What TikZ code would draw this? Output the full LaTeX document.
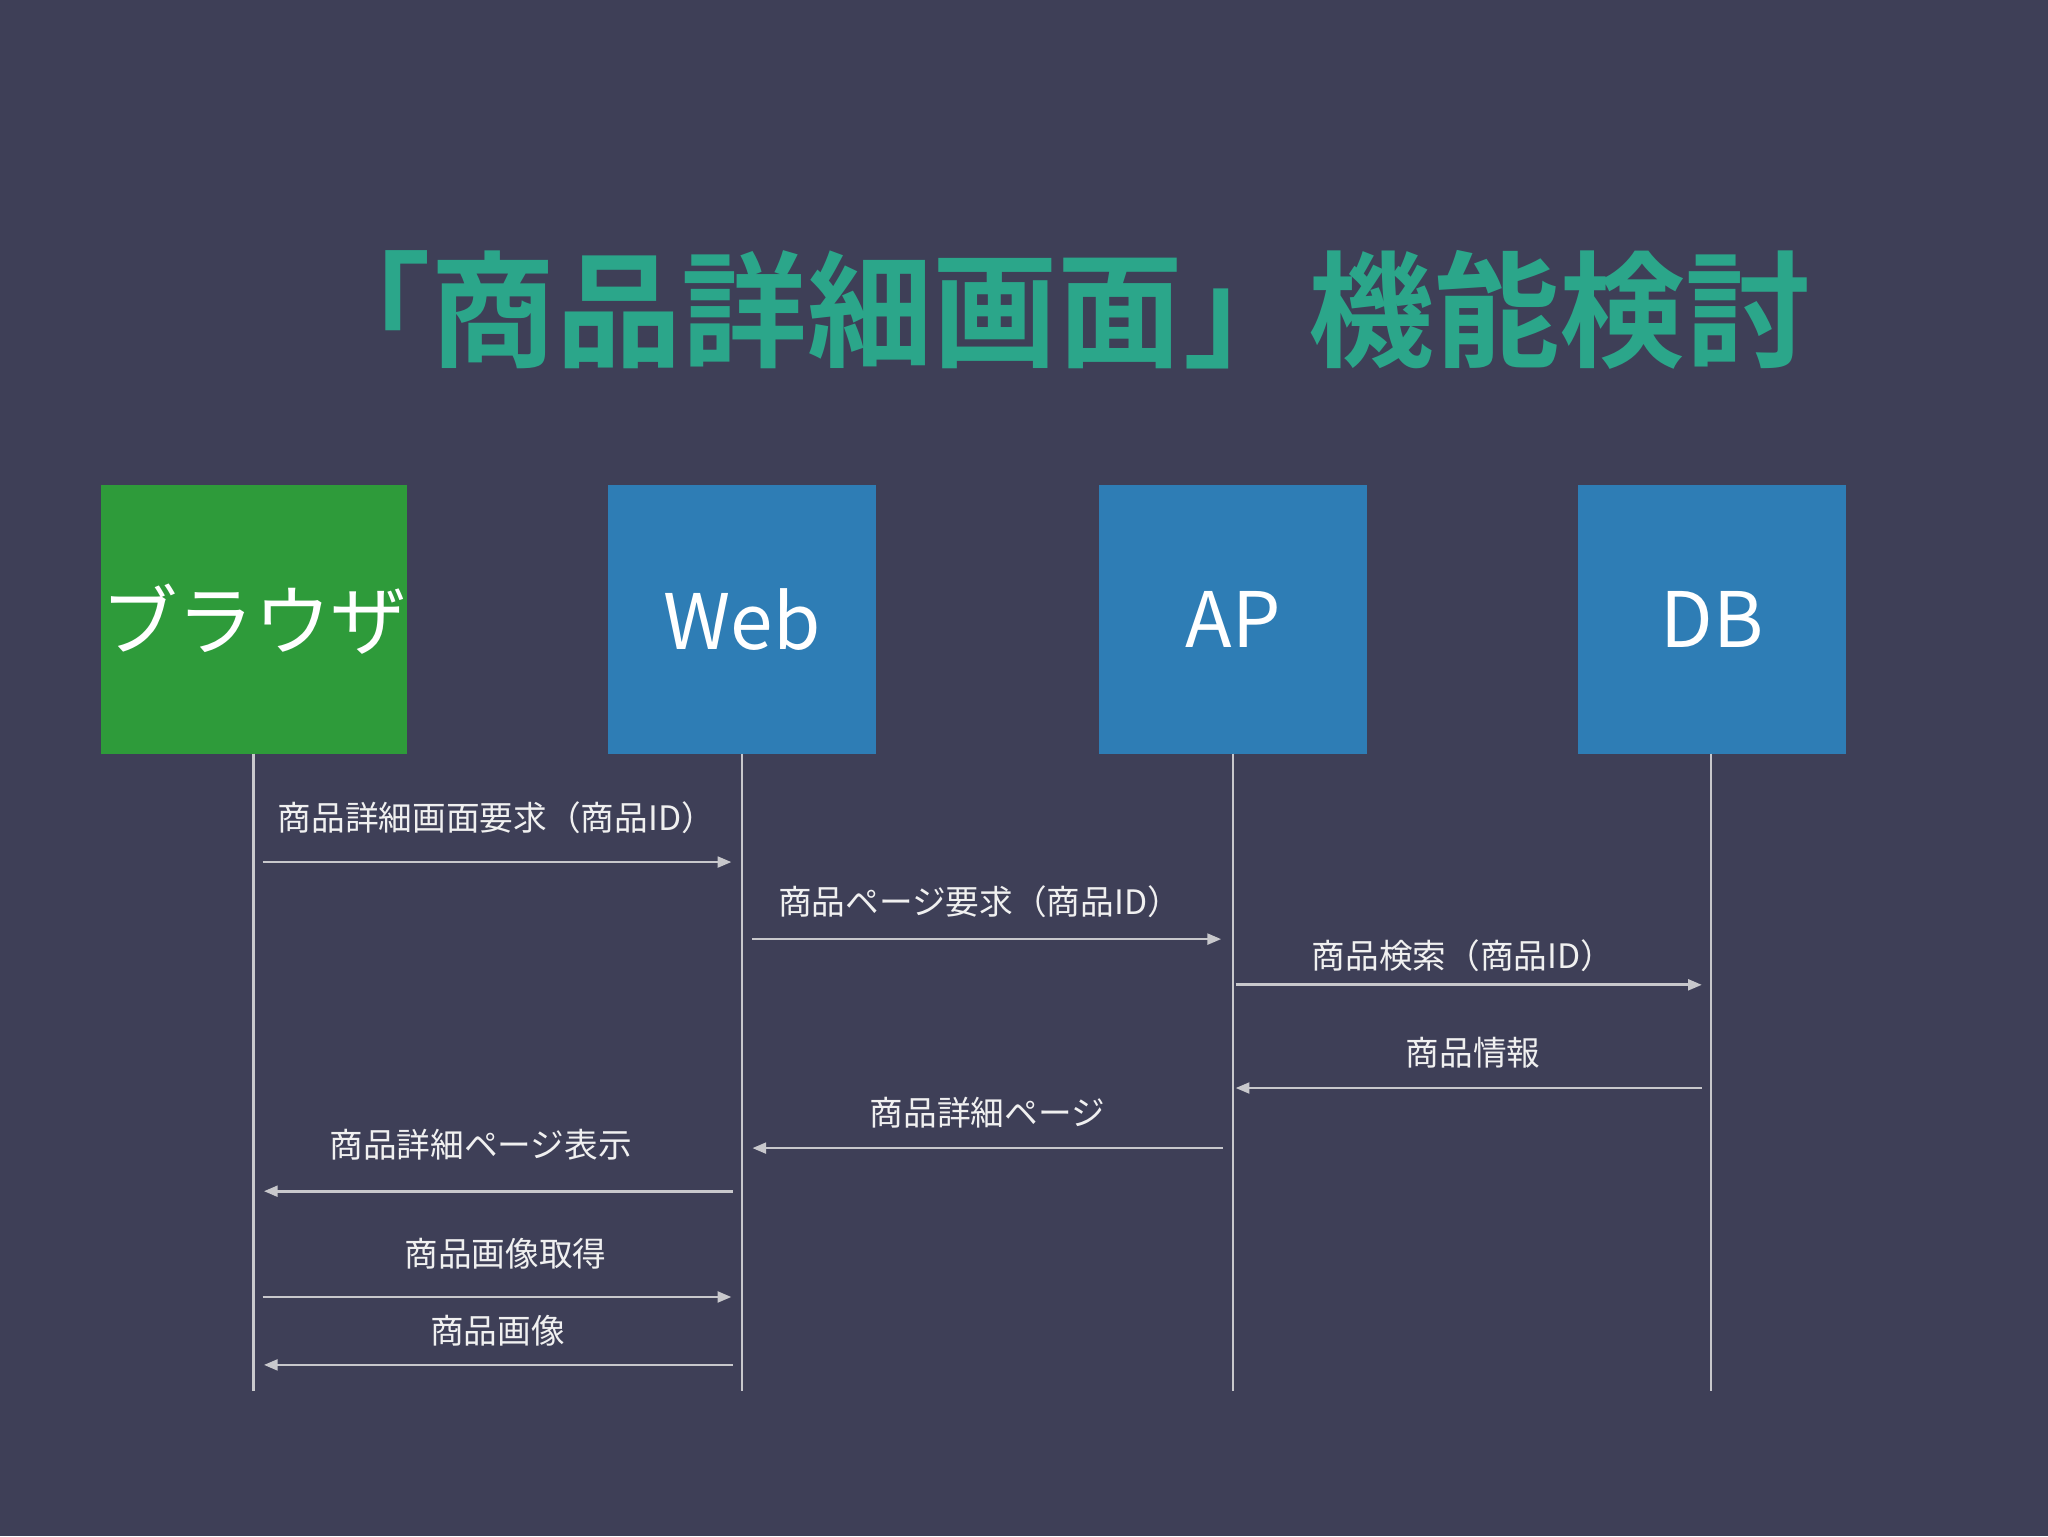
\documentclass[tikz,border=0pt]{standalone}
\usepackage{fontspec}
\setmainfont{Noto Sans CJK JP}
\newfontfamily\jpb{Noto Sans CJK JP Bold}
\usetikzlibrary{arrows.meta}
\definecolor{bg}{HTML}{3E3F57}
\definecolor{ttl}{HTML}{2BA68A}
\definecolor{grn}{HTML}{2E9B3A}
\definecolor{blu}{HTML}{2E7DB5}
\definecolor{ln}{HTML}{C8C8CC}
\begin{document}
\begin{tikzpicture}[x=0.03cm,y=-0.03cm,
  box/.style={minimum width=205*0.03cm,minimum height=206*0.03cm,inner sep=0,text=white,font=\fontsize{50}{50}\selectfont},
  life/.style={ln,line width=1.6pt},
  msg/.style={ln,line width=1.8pt,-{Triangle[length=9pt,width=7pt]}},
  lab/.style={text=white!88!gray,font=\fontsize{22}{22}\selectfont,inner sep=0}]
\fill[bg] (0,0) rectangle (1568,1176);
\useasboundingbox (0,0) rectangle (1568,1176);
\node[text=ttl,font=\jpb\fontsize{82}{82}\selectfont] (title) at (810,237) {「商品詳細画面」機能検討};
\node[box,fill=grn] (br) at (194.5,474) {ブラウザ};
\node[box,fill=blu] (web) at (568,474) {Web};
\node[box,fill=blu] (ap) at (944,474) {AP};
\node[box,fill=blu] (db) at (1311,474) {DB};
\coordinate (bE) at (194,1065); \coordinate (wE) at (568,1065);
\coordinate (aE) at (944,1065); \coordinate (dE) at (1310,1065);
\draw[life] (194,577) -- (bE);
\draw[life] (568,577) -- (wE);
\draw[life] (944,577) -- (aE);
\draw[life] (1310,577) -- (dE);
\foreach \a/\b/\y/\ly/\lx/\t in {
 201/560/660/626/380/商品詳細画面要求（商品ID）,
 576/935/719/690/750/商品ページ要求（商品ID）,
 946/1303/754/732/1120/商品検索（商品ID）,
 1303/946/833/806/1128/商品情報,
 936/576/879/852/756/商品詳細ページ,
 561/202/912/876/368/商品詳細ページ表示,
 201/560/993/960/387/商品画像取得,
 561/202/1045/1019/381/商品画像}{
 \coordinate (s) at (\a,\y); \coordinate (e) at (\b,\y);
 \draw[msg] (s) -- (e);
 \node[lab] at (\lx,\ly) {\t};
}
\end{tikzpicture}
\end{document}
